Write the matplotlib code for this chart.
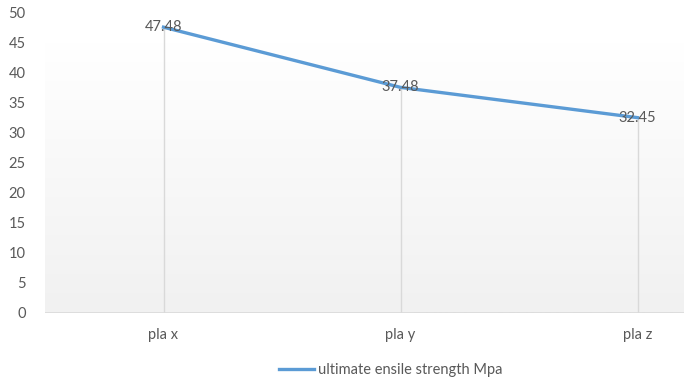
import numpy as np
import matplotlib.pyplot as plt
from matplotlib.lines import Line2D

categories = ['pla x', 'pla y', 'pla z']
strength = [47.48, 37.48, 32.45]
y_ticks = list(range(0, 55, 5))

plt.rcParams['font.family'] = ['Lato', 'DejaVu Sans']

fig = plt.figure(figsize=(6.84, 3.81), dpi=100)
# plot area runs past the right edge, as in the cropped original
ax = fig.add_axes([45 / 684, 1 - 313 / 381, 711 / 684, 301 / 381])

x = np.arange(len(categories))
ax.set_xlim(-0.5, len(categories) - 0.5)
ax.set_ylim(0, 50)

# soft vertical gradient in the plot area
grad = np.linspace(0, 1, 256).reshape(-1, 1)
ax.imshow(grad, extent=(-0.5, len(categories) - 0.5, 0, 45), aspect='auto',
          cmap=plt.matplotlib.colors.LinearSegmentedColormap.from_list(
              'bg', ['#f1f1f1', '#ffffff']),
          origin='lower', zorder=0)

# drop lines
ax.vlines(x, 0, strength, color='#d9d9d9', linewidth=1, zorder=1)
ax.axhline(0, color='#d9d9d9', linewidth=1.2, zorder=1)

ax.plot(x, strength, color='#5b9bd5', linewidth=2.4, zorder=3)

for xi, v in zip(x, strength):
    ax.text(xi, v, f'{v:.2f}', ha='center', va='center', fontsize=10.5,
            color='#595959', zorder=4)

for s in ax.spines.values():
    s.set_visible(False)
ax.set_xticks(x)
ax.set_xticklabels(categories)
ax.set_yticks(y_ticks)
ax.tick_params(length=0, labelsize=10.5, labelcolor='#595959')
ax.tick_params(axis='x', pad=11)
ax.tick_params(axis='y', pad=14)

handle = Line2D([], [], color='#5b9bd5', linewidth=2.4)
fig.legend([handle], ['ultimate ensile strength Mpa'], loc='center',
           bbox_to_anchor=(391 / 684, 1 - 370 / 381), frameon=False,
           fontsize=10.5, labelcolor='#595959', handlelength=2.4,
           handletextpad=0.3)

fig.savefig('out.png', dpi=100)
